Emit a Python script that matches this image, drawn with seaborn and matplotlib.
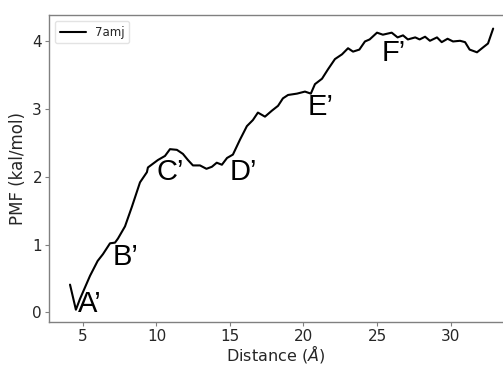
import numpy as np
import pandas as pd
import matplotlib
matplotlib.use("Agg")
import matplotlib.pyplot as plt
import seaborn as sns

sns.set_theme(style="white")

# PMF profile
distance = [4.12, 4.52, 4.8, 5.48, 6.0, 6.36, 6.84, 7.18, 7.38, 7.86, 8.33, 8.88,
            9.35, 9.42, 10.1, 10.58, 10.92, 11.39, 11.8, 12.14, 12.48, 12.96, 13.4,
            13.77, 14.1, 14.45, 14.8, 15.2, 15.68, 16.15, 16.56, 16.9, 17.38, 17.86,
            18.27, 18.6, 18.95, 19.56, 20.1, 20.5, 20.78, 21.26, 21.67, 22.14, 22.62,
            23.03, 23.37, 23.8, 24.18, 24.5, 25.0, 25.4, 26.0, 26.4, 26.77, 27.1,
            27.6, 27.9, 28.27, 28.6, 29.08, 29.4, 29.8, 30.17, 30.65, 30.99, 31.3,
            31.8, 32.2, 32.55, 32.9]
pmf = [0.41, 0.04, 0.2, 0.54, 0.76, 0.86, 1.02, 1.03, 1.09, 1.27, 1.56, 1.92,
       2.07, 2.14, 2.25, 2.31, 2.41, 2.40, 2.34, 2.25, 2.17, 2.17, 2.12,
       2.15, 2.21, 2.18, 2.28, 2.33, 2.55, 2.75, 2.84, 2.95, 2.89, 2.98,
       3.05, 3.16, 3.21, 3.23, 3.26, 3.23, 3.37, 3.45, 3.59, 3.74, 3.81,
       3.90, 3.85, 3.88, 4.0, 4.03, 4.13, 4.10, 4.13, 4.06, 4.09, 4.03,
       4.06, 4.03, 4.07, 4.01, 4.06, 3.99, 4.04, 4.0, 4.01, 3.99, 3.88,
       3.84, 3.91, 3.97, 4.19]

point_labels = ["A\u2019", "B\u2019", "C\u2019", "D\u2019", "E\u2019", "F\u2019"]
label_x = [4.66, 7.04, 10.03, 15.0, 20.3, 25.34]
label_y = [0.01, 0.70, 1.96, 1.96, 2.91, 3.71]

df = pd.DataFrame({"distance": distance, "pmf": pmf})

fig = plt.figure(figsize=(5.03, 3.67), dpi=100)
ax = fig.add_axes([0.0974, 0.122, 0.9026, 0.837])

sns.lineplot(data=df, x="distance", y="pmf", color="black", linewidth=1.5,
             label="7amj", ax=ax, sort=False)

for t, x, y in zip(point_labels, label_x, label_y):
    ax.text(x, y, t, fontsize=21, color="black", ha="left", va="baseline",
            family=["Liberation Sans", "DejaVu Sans"])

ax.set_xlim(2.69, 33.57)
ax.set_ylim(-0.145, 4.39)
ax.set_xticks([5, 10, 15, 20, 25, 30])
ax.set_yticks([0, 1, 2, 3, 4])
ax.set_xlabel(r"Distance ($\AA$)", fontsize=11.5, labelpad=-1)
ax.set_ylabel("PMF (kal/mol)", fontsize=12, labelpad=4)
ax.tick_params(axis="both", labelsize=11, length=3, width=0.8, color="gray",
               pad=2, direction="out")
ax.tick_params(axis="x", bottom=True)
ax.tick_params(axis="y", left=True)

for side in ["left", "bottom", "top"]:
    ax.spines[side].set_color("gray")
    ax.spines[side].set_linewidth(1.0)
ax.spines["right"].set_visible(False)

ax.legend(loc="upper left", fontsize=8.5, frameon=True, handlelength=2.2,
          borderpad=0.4, edgecolor="#dddddd")

fig.savefig("out.png", dpi=100)
